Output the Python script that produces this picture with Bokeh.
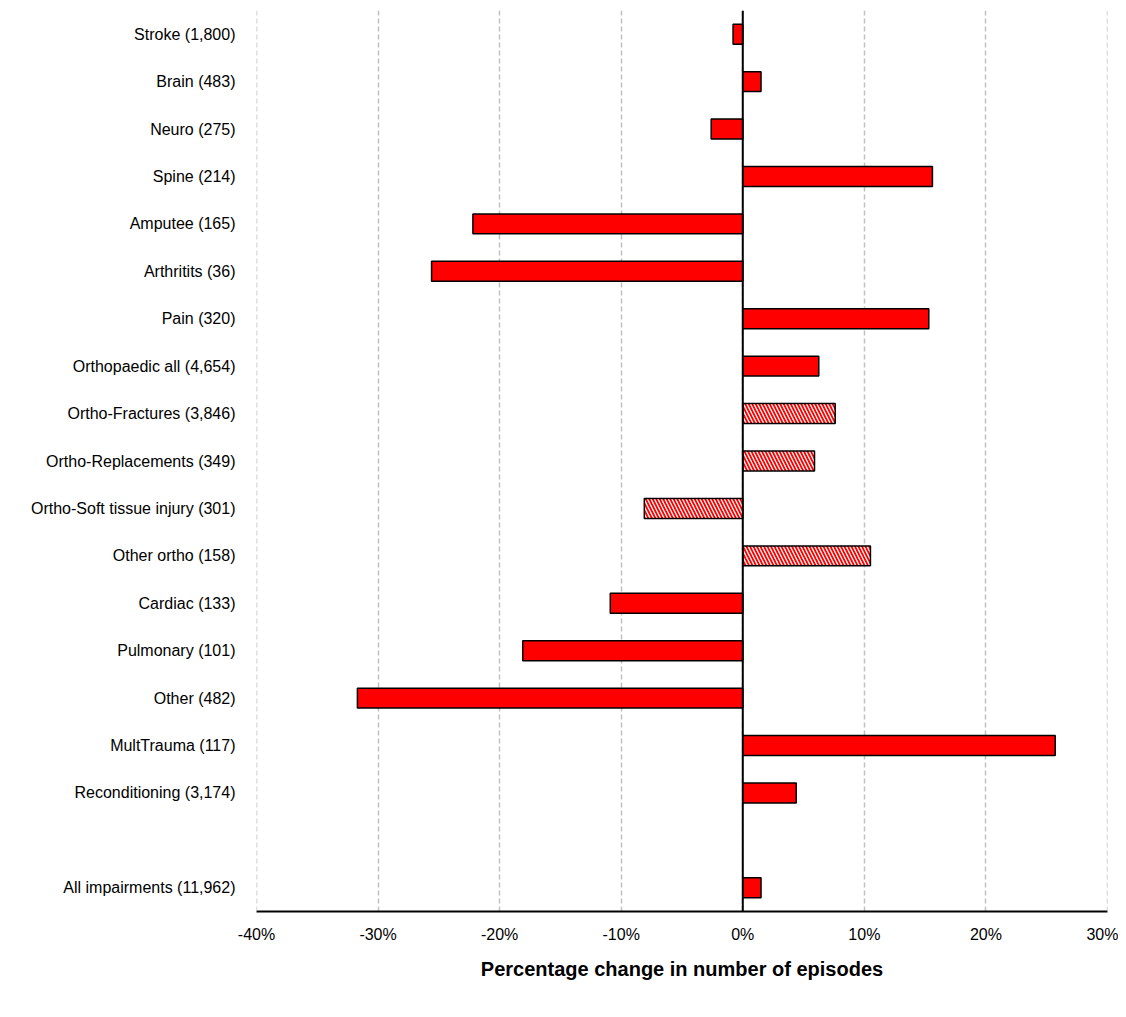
from bokeh.plotting import figure
from bokeh.models import ColumnDataSource, FactorRange, Span, FixedTicker, CustomJSTickFormatter
from bokeh.embed import file_html
from bokeh.resources import INLINE

categories = [
    "Stroke (1,800)", "Brain (483)", "Neuro (275)", "Spine (214)", "Amputee (165)",
    "Arthritits (36)", "Pain (320)", "Orthopaedic all (4,654)", "Ortho-Fractures (3,846)",
    "Ortho-Replacements (349)", "Ortho-Soft tissue injury (301)", "Other ortho (158)",
    "Cardiac (133)", "Pulmonary (101)", "Other (482)", "MultTrauma (117)",
    "Reconditioning (3,174)", "All impairments (11,962)",
]
values = [-0.8, 1.5, -2.6, 15.6, -22.2, -25.6, 15.3, 6.25, 7.6, 5.9, -8.1, 10.5,
          -10.9, -18.1, -31.7, 25.7, 4.4, 1.5]
hatched = [False, False, False, False, False, False, False, False, True, True, True, True,
           False, False, False, False, False, False]
x_ticks = [-40, -30, -20, -10, 0, 10, 20, 30]

FONT = "Liberation Sans"

factors = categories[:-1] + [" "] + categories[-1:]

solid = ColumnDataSource(dict(
    y=[c for c, h in zip(categories, hatched) if not h],
    x=[v for v, h in zip(values, hatched) if not h]))
hatch = ColumnDataSource(dict(
    y=[c for c, h in zip(categories, hatched) if h],
    x=[v for v, h in zip(values, hatched) if h]))

p = figure(frame_width=851, frame_height=901, width=1118, height=1000,
           y_range=FactorRange(*reversed(factors), range_padding=0),
           x_range=(x_ticks[0], x_ticks[-1]), output_backend="svg", toolbar_location=None,
           min_border_left=256, min_border_top=10, min_border_right=11, min_border_bottom=10)
p.outline_line_color = None
p.background_fill_color = "white"

for loc in (x_ticks[0], x_ticks[-1]):
    p.add_layout(Span(location=loc, dimension="height", line_color="#c0c0c0",
                      line_dash="5 3", line_width=1.5))

p.hbar(y="y", right="x", left=0, height=0.42, source=solid,
       fill_color="#ff0000", line_color="black", line_width=1.5)
p.hbar(y="y", right="x", left=0, height=0.42, source=hatch,
       fill_color="#ff0000", line_color="black", line_width=1.5,
       hatch_pattern="\\", hatch_color="white", hatch_weight=1.3, hatch_scale=7)

p.add_layout(Span(location=0, dimension="height", line_color="black", line_width=2))

p.xaxis.ticker = FixedTicker(ticks=x_ticks)
p.xaxis.formatter = CustomJSTickFormatter(code="return tick + '%';")
p.xaxis.axis_line_color = "black"
p.xaxis.axis_line_width = 2
p.xaxis.major_tick_line_color = None
p.xaxis.minor_tick_line_color = None
p.xaxis.major_label_standoff = 8
p.xaxis.major_label_text_font = FONT
p.xaxis.major_label_text_font_size = "16px"
p.xaxis.major_label_text_color = "black"
p.xaxis.axis_label = "Percentage change in number of episodes"
p.xaxis.axis_label_text_font = FONT
p.xaxis.axis_label_text_font_style = "bold"
p.xaxis.axis_label_text_font_size = "20px"
p.xaxis.axis_label_standoff = 12
p.xaxis.axis_label_text_color = "black"

p.yaxis.axis_line_color = None
p.yaxis.major_tick_line_color = None
p.yaxis.minor_tick_line_color = None
p.yaxis.major_label_standoff = 15
p.yaxis.major_label_text_font = FONT
p.yaxis.major_label_text_font_size = "16px"
p.yaxis.major_label_text_color = "black"

p.ygrid.grid_line_color = None
p.xgrid.grid_line_color = "#c0c0c0"
p.xgrid.grid_line_dash = "5 3"
p.xgrid.grid_line_width = 1.5

open("out.html", "w").write(file_html(p, INLINE))
